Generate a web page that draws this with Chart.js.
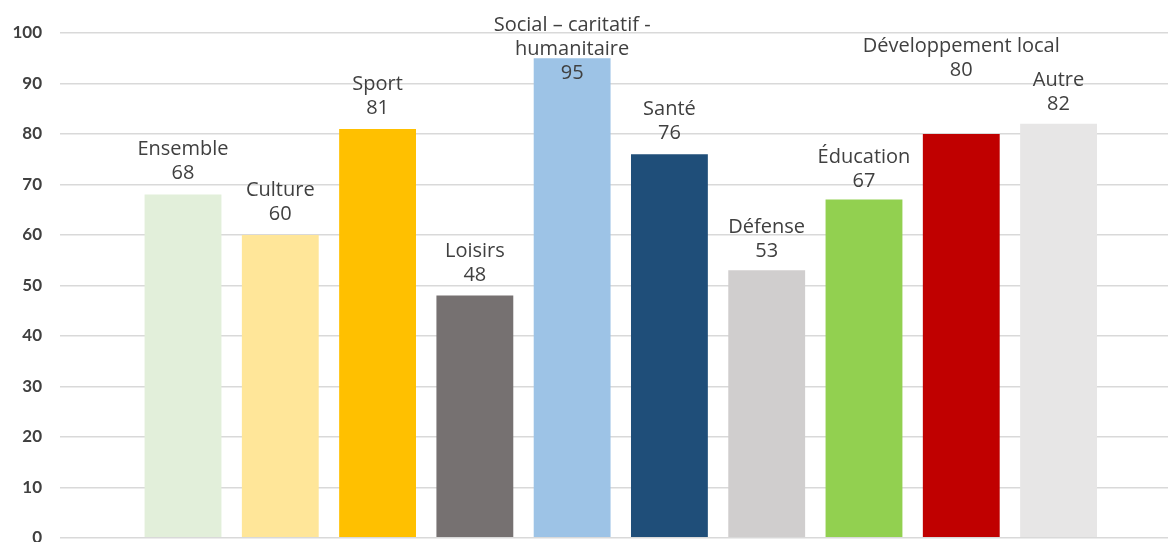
<!DOCTYPE html>
<html>
<head>
<meta charset="utf-8">
<script src="https://cdn.jsdelivr.net/npm/chart.js@4"></script>
<style>
  html, body { margin: 0; padding: 0; background: #fff; overflow: hidden; }
  #wrap { width: 1168px; height: 566px; }
</style>
</head>
<body>
<div id="wrap"><canvas id="myChart"></canvas></div>
<script>
// categories (multi-line names as arrays)
var categories = ['Ensemble', 'Culture', 'Sport', 'Loisirs', ['Social – caritatif -', 'humanitaire'],
    'Santé', 'Défense', 'Éducation', 'Développement local', 'Autre'];
var values = [68, 60, 81, 48, 95, 76, 53, 67, 80, 82];
var colors = ['#E2EFDA', '#FFE699', '#FFC000', '#767171', '#9DC3E6',
    '#1F4E79', '#D0CECE', '#92D050', '#C00000', '#E7E6E6'];
var yTicks = [0, 10, 20, 30, 40, 50, 60, 70, 80, 90, 100];

// distance from bar top to the value line (label placement, per bar)
var labelGap = [21, 21, 21, 20, -15, 21, 19, 18, 64, 20];

var barLabels = {
    id: 'barLabels',
    afterDatasetsDraw: function (chart) {
        var ctx = chart.ctx;
        var meta = chart.getDatasetMeta(0);
        ctx.save();
        ctx.font = '500 20px "Open Sans"';
        ctx.fillStyle = '#404040';
        ctx.textAlign = 'center';
        ctx.textBaseline = 'middle';
        meta.data.forEach(function (bar, i) {
            var name = categories[i];
            var lines = (Array.isArray(name) ? name : [name]).concat([String(values[i])]);
            var y = bar.y - labelGap[i];
            for (var k = lines.length - 1; k >= 0; k--) {
                ctx.fillText(lines[k], bar.x, y);
                y -= 24;
            }
        });
        ctx.restore();
    }
};

var ctx = document.getElementById('myChart');

var myChart = new Chart(ctx, {
    type: 'bar',
    data: {
        labels: categories.map(function (c, i) { return i + 1; }),
        datasets: [{
            data: values,
            backgroundColor: colors,
            borderWidth: 0,
            barPercentage: 0.79,
            categoryPercentage: 1
        }]
    },
    options: {
        responsive: true,
        maintainAspectRatio: false,
        animation: false,
        layout: { padding: { left: 10, top: 33, right: 0, bottom: 10 } },
        plugins: {
            legend: { display: false },
            tooltip: { enabled: false }
        },
        scales: {
            x: {
                type: 'linear',
                display: false,
                min: -0.2644,
                max: 11.125,
                offset: false
            },
            y: {
                min: 0,
                max: 100,
                afterFit: function (scale) { scale.width = 50; },
                afterBuildTicks: function (scale) {
                    scale.ticks = yTicks.map(function (v) { return { value: v }; });
                },
                border: { display: false },
                grid: { color: '#D9D9D9', lineWidth: 1.5, drawTicks: false },
                ticks: {
                    padding: 18,
                    color: '#404040',
                    font: { family: 'Lato', size: 17, weight: 'bold' }
                }
            }
        }
    },
    plugins: [barLabels]
});
</script>
</body>
</html>
